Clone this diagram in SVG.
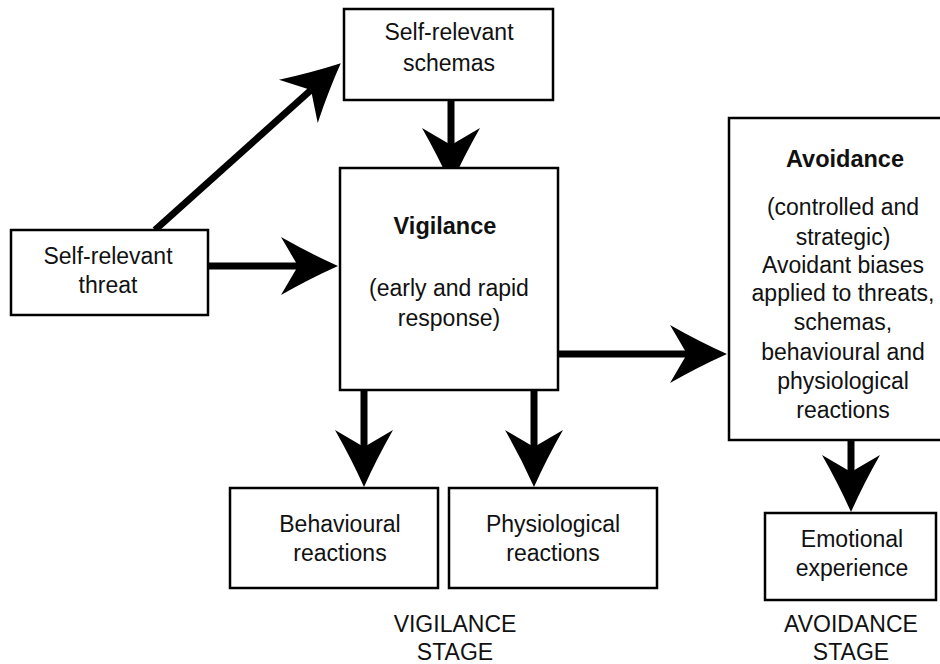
<svg xmlns="http://www.w3.org/2000/svg" width="940" height="664" viewBox="0 0 940 664">
<style>
.box{fill:#fff;stroke:#000;stroke-width:2.5}
.t{font-family:"Liberation Sans",Arial,sans-serif;font-size:23px;fill:#111;text-anchor:middle}
.b{font-weight:bold;font-size:23.5px}
.c{stroke:#000;stroke-width:7;fill:none;marker-end:url(#ah)}
</style>
<defs>
<marker id="ah" markerUnits="userSpaceOnUse" orient="auto" viewBox="-58 -30 60 60" markerWidth="60" markerHeight="60" refX="-40" refY="0" overflow="visible">
<path d="M0,0 Q-28,-12.5 -57,-29 L-40,0 L-57,29 Q-28,12.5 0,0 Z" fill="#000"/>
</marker>
</defs>
<rect width="940" height="664" fill="#fff"/>
<g id="connectors">
<line class="c" x1="155" y1="230" x2="311" y2="90"/>
<line class="c" x1="208" y1="266" x2="298" y2="266"/>
<line class="c" x1="451" y1="100" x2="451" y2="145"/>
<line class="c" x1="558" y1="354" x2="687" y2="354"/>
<line class="c" x1="364" y1="390" x2="364" y2="447"/>
<line class="c" x1="534" y1="390" x2="534" y2="447"/>
<line class="c" x1="851" y1="440" x2="851" y2="472"/>
</g>
<g id="schemas">
<rect class="box" x="344" y="9" width="209" height="91"/>
<text class="t" x="449" y="40">Self-relevant</text>
<text class="t" x="449" y="71">schemas</text>
</g>
<g id="threat">
<rect class="box" x="11" y="230" width="197" height="85"/>
<text class="t" x="108" y="264">Self-relevant</text>
<text class="t" x="108" y="293">threat</text>
</g>
<g id="vigilance">
<rect class="box" x="340" y="168" width="218" height="222"/>
<text class="t b" x="445" y="234">Vigilance</text>
<text class="t" x="449" y="296">(early and rapid</text>
<text class="t" x="449" y="326">response)</text>
</g>
<g id="avoidance">
<rect class="box" x="729" y="118" width="222" height="322"/>
<text class="t b" x="845" y="167">Avoidance</text>
<text class="t" x="843" y="215">(controlled and</text>
<text class="t" x="843" y="245">strategic)</text>
<text class="t" x="843" y="273">Avoidant biases</text>
<text class="t" x="843" y="301">applied to threats,</text>
<text class="t" x="843" y="330">schemas,</text>
<text class="t" x="843" y="360">behavioural and</text>
<text class="t" x="843" y="389">physiological</text>
<text class="t" x="843" y="418">reactions</text>
</g>
<g id="behavioural">
<rect class="box" x="230" y="488" width="208" height="100"/>
<text class="t" x="340" y="532">Behavioural</text>
<text class="t" x="340" y="561">reactions</text>
</g>
<g id="physiological">
<rect class="box" x="449" y="488" width="208" height="100"/>
<text class="t" x="553" y="532">Physiological</text>
<text class="t" x="553" y="561">reactions</text>
</g>
<g id="emotional">
<rect class="box" x="765" y="513" width="171" height="87"/>
<text class="t" x="852" y="547">Emotional</text>
<text class="t" x="852" y="576">experience</text>
</g>
<g id="labels">
<text class="t" x="455" y="632">VIGILANCE</text>
<text class="t" x="455" y="660">STAGE</text>
<text class="t" x="851" y="632">AVOIDANCE</text>
<text class="t" x="851" y="660">STAGE</text>
</g>
</svg>
